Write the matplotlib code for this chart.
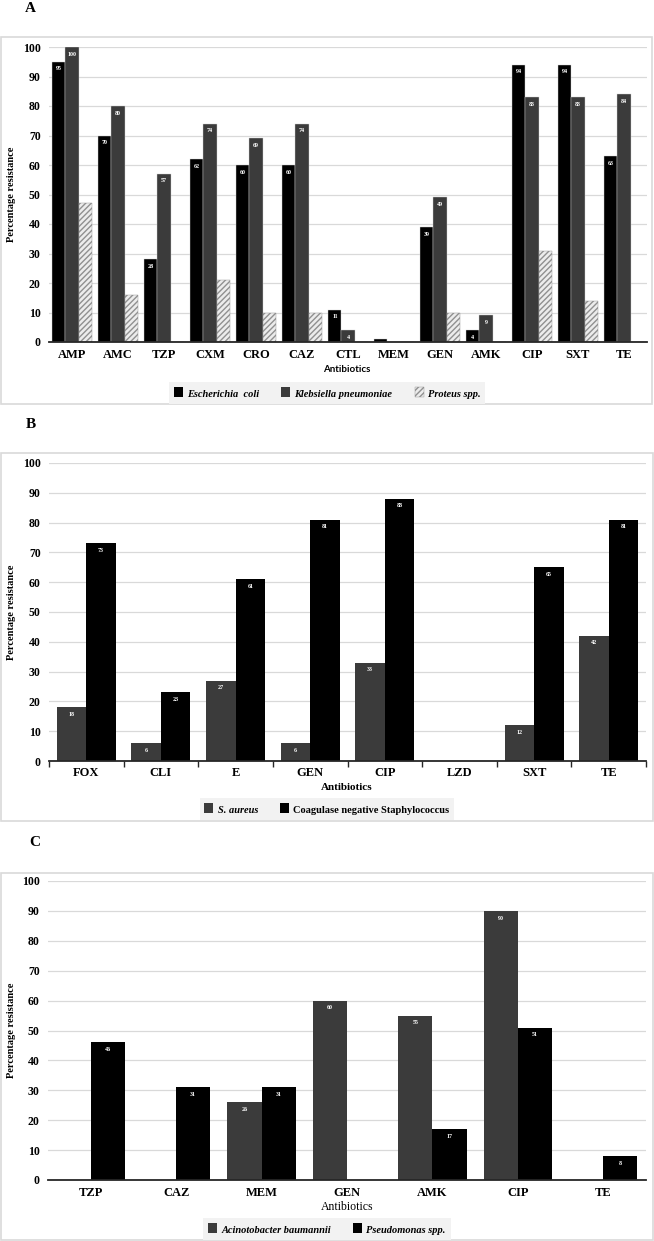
import matplotlib
matplotlib.use("Agg")
import matplotlib.pyplot as plt
from matplotlib.patches import Patch, Rectangle
import numpy as np

# ---------------- data ----------------
abx_a = ["AMP", "AMC", "TZP", "CXM", "CRO", "CAZ", "CTL", "MEM", "GEN", "AMK", "CIP", "SXT", "TE"]
ecoli = [95, 70, 28, 62, 60, 60, 11, 1, 39, 4, 94, 94, 63]
kpneu = [100, 80, 57, 74, 69, 74, 4, 0, 49, 9, 83, 83, 84]
proteus = [47, 16, 0, 21, 10, 10, 0, 0, 10, 0, 31, 14, 0]
series_a = ["Escherichia  coli", "Klebsiella pneumoniae", "Proteus spp."]

abx_b = ["FOX", "CLI", "E", "GEN", "CIP", "LZD", "SXT", "TE"]
saureus = [18, 6, 27, 6, 33, 0, 12, 42]
cons = [73, 23, 61, 81, 88, 0, 65, 81]
series_b = ["S. aureus", "Coagulase negative Staphylococcus"]

abx_c = ["TZP", "CAZ", "MEM", "GEN", "AMK", "CIP", "TE"]
acineto = [0, 0, 26, 60, 55, 90, 0]
pseudo = [46, 31, 31, 0, 17, 51, 8]
series_c = ["Acinotobacter baumannii", "Pseudomonas spp."]

yticks = [0, 10, 20, 30, 40, 50, 60, 70, 80, 90, 100]

# ---------------- figure ----------------
W, H = 654, 1241
fig = plt.figure(figsize=(W / 100, H / 100), dpi=100)
fig.patch.set_facecolor("white")
SERIF = "Liberation Serif"
BLACK = "#000000"
GRAY = "#3b3b3b"


def fx(px):
    return px / W


def fy(py):
    return 1 - py / H


def box(x0, y0, x1, y1):
    fig.patches.append(Rectangle((fx(x0), fy(y1)), fx(x1) - fx(x0), fy(y0) - fy(y1),
                                 transform=fig.transFigure, fill=False,
                                 edgecolor="#d9d9d9", linewidth=1.2))


def make_axes(left, right, top, bottom):
    ax = fig.add_axes([fx(left), fy(bottom), fx(right) - fx(left), fy(top) - fy(bottom)])
    ax.set_ylim(0, 100)
    ax.set_yticks(yticks)
    ax.yaxis.grid(True, color="#d9d9d9", linewidth=0.9)
    ax.set_axisbelow(True)
    for s in ["top", "right", "left"]:
        ax.spines[s].set_visible(False)
    ax.spines["bottom"].set_color("#262626")
    ax.spines["bottom"].set_linewidth(1.3)
    ax.tick_params(axis="y", length=0, pad=6)
    for lab in ax.get_yticklabels():
        lab.set_fontfamily(SERIF)
        lab.set_fontweight("bold")
        lab.set_fontsize(8.5)
    return ax


def value_labels(ax, xs, vals, skip_small=0):
    for x, v in zip(xs, vals):
        if v > skip_small:
            ax.text(x, v - 2.4, str(v), ha="center", va="center", color="white",
                    fontsize=4.3, fontweight="bold", fontfamily=SERIF)


def xlabels(ax, cats, pad):
    n = len(cats)
    ax.set_xlim(-0.5, n - 0.5)
    ax.set_xticks(np.arange(n))
    ax.set_xticklabels(cats, fontfamily=SERIF, fontweight="bold", fontsize=9)
    ax.tick_params(axis="x", length=0, pad=pad)


def legend(handles, labels, cy, fonts):
    leg = fig.legend(handles, labels, loc="center", bbox_to_anchor=(fx(327), fy(cy)),
                     ncol=len(labels), frameon=True, facecolor="#f2f2f2", edgecolor="none",
                     fancybox=False, handlelength=0.65, handleheight=0.65, handletextpad=0.3,
                     columnspacing=1.6, borderpad=0.35, framealpha=1)
    for t, (style, weight) in zip(leg.get_texts(), fonts):
        t.set_fontfamily(SERIF)
        t.set_fontstyle(style)
        t.set_fontweight(weight)
        t.set_fontsize(7.5)
    return leg


# ---------------- Panel A ----------------
box(1, 37, 652, 404)
fig.text(fx(30), fy(8), "A", fontfamily=SERIF, fontweight="bold", fontsize=11, ha="center", va="center")
axA = make_axes(49, 647, 47, 342)
x = np.arange(len(abx_a))
w = 0.285
axA.bar(x - w, ecoli, w, color=BLACK, edgecolor="#d0d0d0", linewidth=0.3)
axA.bar(x, kpneu, w, color=GRAY, edgecolor="#d0d0d0", linewidth=0.3)
axA.bar(x + w, proteus, w, color="#ececec", edgecolor="#909090", linewidth=0.3, hatch="//////")
value_labels(axA, x - w, ecoli, skip_small=1)
value_labels(axA, x, kpneu)
xlabels(axA, abx_a, 5)
fig.text(fx(347), fy(369), "Antibiotics", fontfamily="Lato", fontweight="bold", fontsize=7,
         ha="center", va="center")
fig.text(fx(12), fy((47 + 342) / 2), "Percentage resistance", rotation=90, fontfamily=SERIF,
         fontweight="bold", fontsize=7.5, ha="center", va="center")
legend([Patch(facecolor=BLACK), Patch(facecolor=GRAY),
        Patch(facecolor="#ececec", edgecolor="#909090", hatch="//////", linewidth=0.3)],
       series_a, 393, [("italic", "bold")] * 3)

# ---------------- Panel B ----------------
box(1, 453, 653, 821)
fig.text(fx(31), fy(425), "B", fontfamily=SERIF, fontweight="bold", fontsize=11, ha="center", va="center")
axB = make_axes(49, 646, 463, 761)
x = np.arange(len(abx_b))
w = 0.395
axB.bar(x - w / 2, saureus, w, color=GRAY)
axB.bar(x + w / 2, cons, w, color=BLACK)
value_labels(axB, x - w / 2, saureus)
value_labels(axB, x + w / 2, cons)
xlabels(axB, abx_b, 4)
axB.set_xticks(np.arange(len(abx_b) + 1) - 0.5, minor=True)
axB.tick_params(axis="x", which="minor", length=4, width=1, color="#262626", direction="out")
fig.text(fx(347), fy(787), "Antibiotics", fontfamily=SERIF, fontweight="bold", fontsize=8,
         ha="center", va="center")
fig.text(fx(12), fy((463 + 761) / 2), "Percentage resistance", rotation=90, fontfamily=SERIF,
         fontweight="bold", fontsize=7.5, ha="center", va="center")
legend([Patch(facecolor=GRAY), Patch(facecolor=BLACK)], series_b, 809,
       [("italic", "bold"), ("normal", "bold")])

# ---------------- Panel C ----------------
box(1, 873, 653, 1240)
fig.text(fx(35), fy(843), "C", fontfamily=SERIF, fontweight="bold", fontsize=11, ha="center", va="center")
axC = make_axes(48, 646, 881, 1180)
x = np.arange(len(abx_c))
w = 0.4
axC.bar(x - w / 2, acineto, w, color=GRAY)
axC.bar(x + w / 2, pseudo, w, color=BLACK)
value_labels(axC, x - w / 2, acineto)
value_labels(axC, x + w / 2, pseudo)
xlabels(axC, abx_c, 5)
fig.text(fx(347), fy(1207), "Antibiotics", fontfamily=SERIF, fontsize=8.5,
         ha="center", va="center")
fig.text(fx(12), fy((881 + 1180) / 2), "Percentage resistance", rotation=90, fontfamily=SERIF,
         fontweight="bold", fontsize=7.5, ha="center", va="center")
legend([Patch(facecolor=GRAY), Patch(facecolor=BLACK)], series_c, 1229,
       [("italic", "bold"), ("italic", "bold")])

fig.savefig("out.png", dpi=100, facecolor="white")
